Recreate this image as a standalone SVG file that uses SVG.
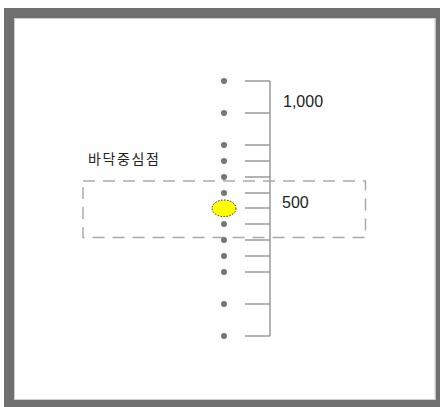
<svg xmlns="http://www.w3.org/2000/svg" width="440" height="407" viewBox="0 0 440 407">
<style>
.dot{fill:#777}
.tick{stroke:#999;stroke-width:1.5;fill:none}
.lbl{font-family:"Liberation Sans",Arial,sans-serif;font-size:16px;fill:#222}
.ko{font-family:"Noto Sans CJK KR","Noto Sans",sans-serif;font-size:14px;fill:#222}
</style>
<rect x="0" y="0" width="440" height="407" fill="#fff"/>
<rect id="frame" x="9" y="13" width="431.5" height="392" fill="none" stroke="#6f6f6f" stroke-width="10"/>
<rect x="14.5" y="18.5" width="420.5" height="381" fill="none" stroke="#cfcfcf" stroke-width="1"/>
<g id="connectors">
<line class="tick" x1="270" y1="81" x2="270" y2="336"/>
<path class="tick" d="M245 81H270M245 113H270M245 145H270M245 161H270M245 177H270M245 193H270M245 208H270M245 224H270M245 240H270M245 256H270M245 272H270M245 304H270M245 336H270"/>
</g>
<g id="dashed-box">
<rect x="83" y="181" width="282.5" height="56.5" fill="none" stroke="#aaa" stroke-width="1.5" stroke-dasharray="12 8"/>
</g>
<g id="dots">
<circle class="dot" cx="224" cy="81" r="3"/>
<circle class="dot" cx="224" cy="113" r="3"/>
<circle class="dot" cx="224" cy="145" r="3"/>
<circle class="dot" cx="224" cy="161" r="3"/>
<circle class="dot" cx="224" cy="177" r="3"/>
<circle class="dot" cx="224" cy="193" r="3"/>
<circle class="dot" cx="224" cy="224" r="3"/>
<circle class="dot" cx="224" cy="240" r="3"/>
<circle class="dot" cx="224" cy="256" r="3"/>
<circle class="dot" cx="224" cy="272" r="3"/>
<circle class="dot" cx="224" cy="304" r="3"/>
<circle class="dot" cx="224" cy="336" r="3"/>
</g>
<g id="center">
<ellipse cx="224" cy="208.3" rx="12" ry="8.3" fill="#ffff00" stroke="#222" stroke-width="1" stroke-dasharray="1.5 1.5"/>
</g>
<g id="labels">
<text class="lbl" x="283" y="107">1,000</text>
<text class="lbl" x="282" y="208">500</text>
<text class="ko" x="88" y="164" letter-spacing="1.6">바닥중심점</text>
</g>
</svg>
